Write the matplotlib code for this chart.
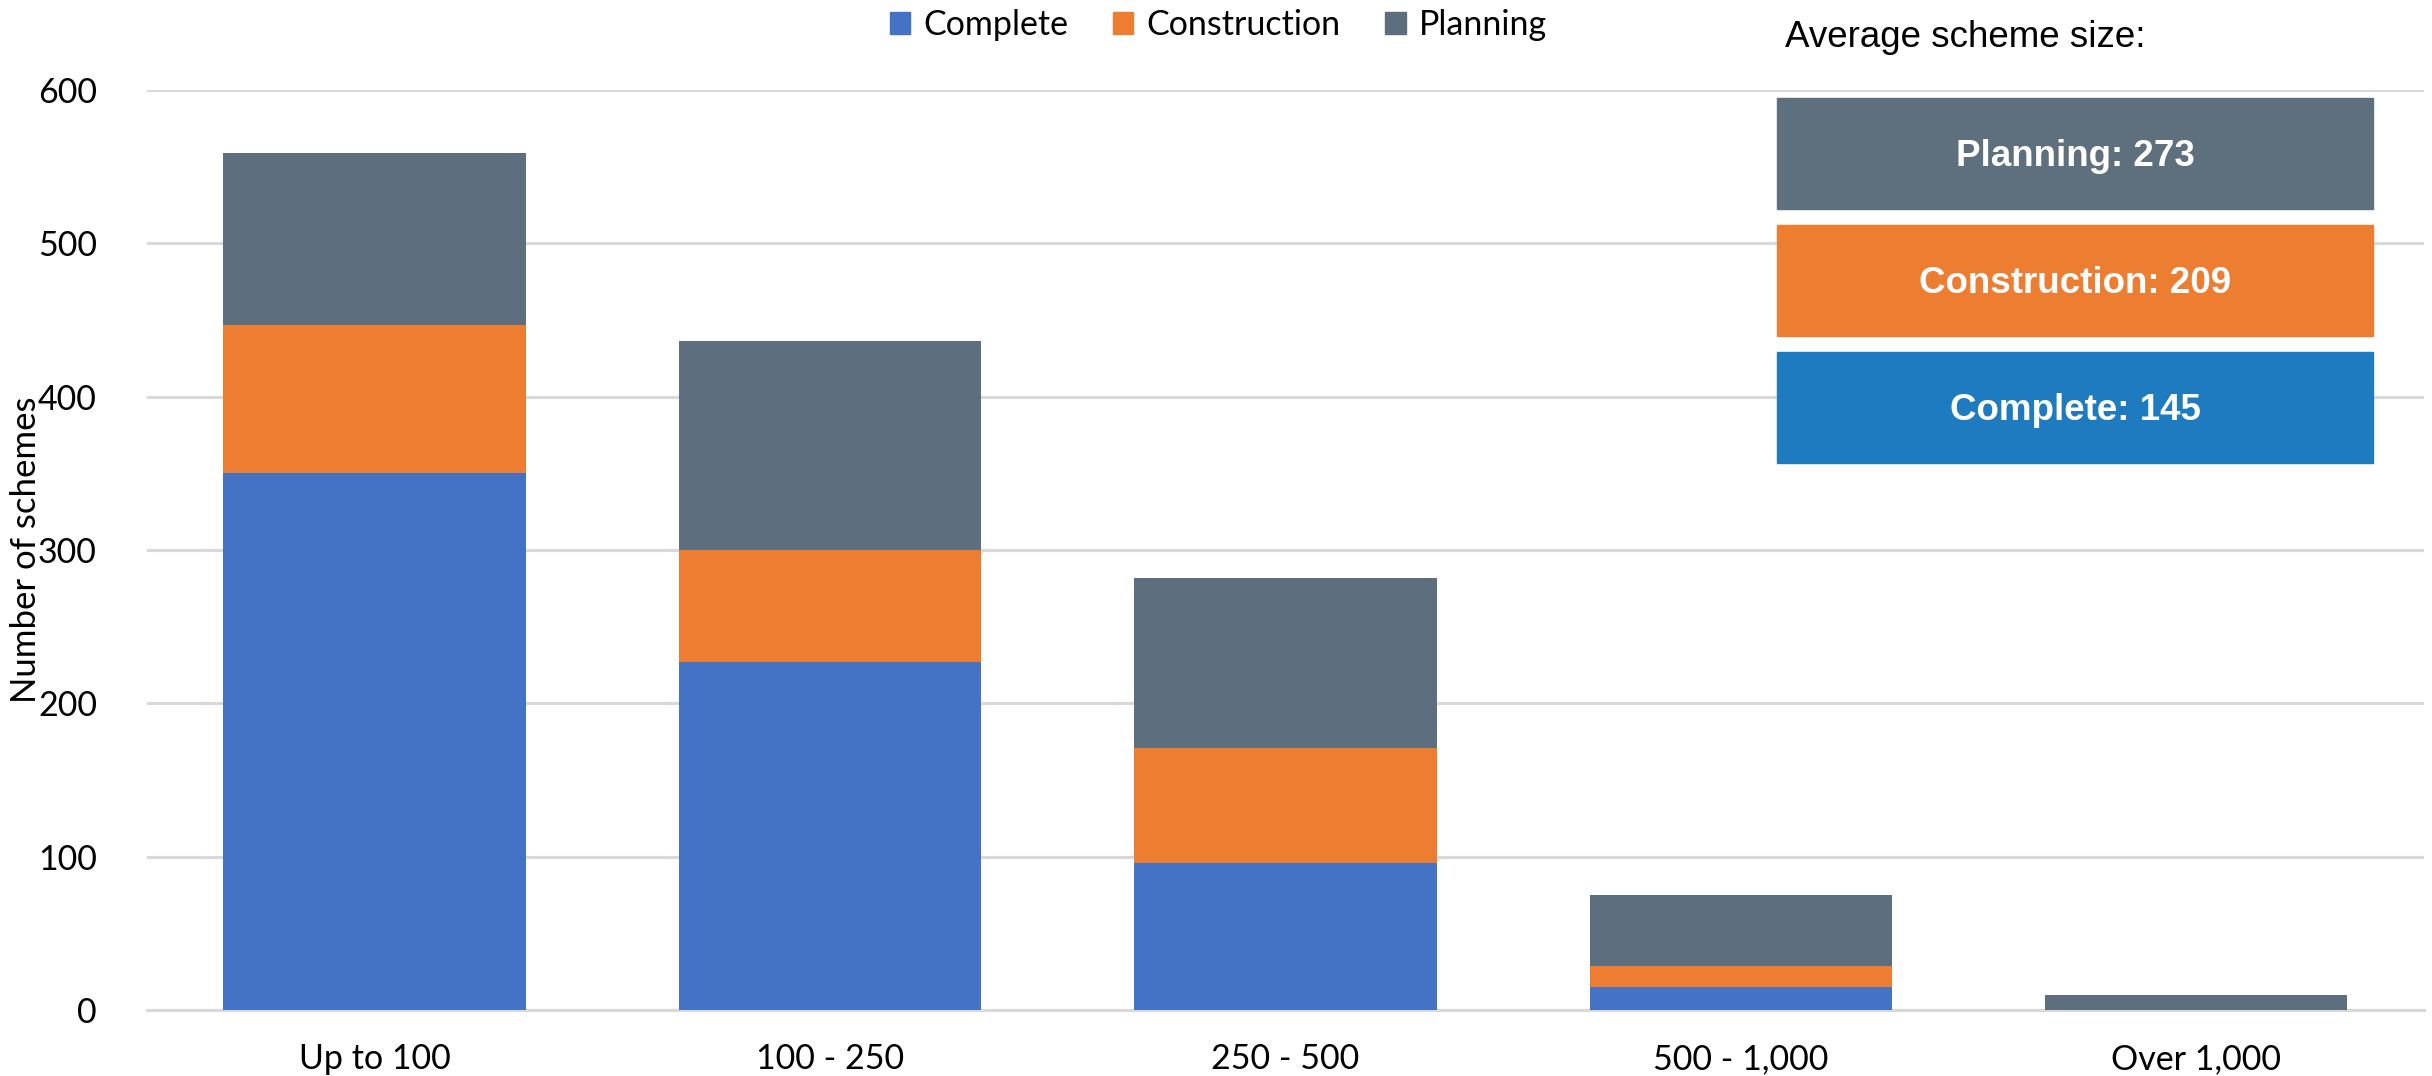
import numpy as np
import matplotlib
matplotlib.use("Agg")
import matplotlib.pyplot as plt
from matplotlib.patches import Patch

# data
categories = ["Up to 100", "100 - 250", "250 - 500", "500 - 1,000", "Over 1,000"]
complete = [350, 227, 96, 15, 0]
construction = [97, 73, 75, 14, 0]
planning = [112, 136, 111, 46, 10]

avg_labels = ["Planning", "Construction", "Complete"]
avg_sizes = [273, 209, 145]

c_complete = "#4472C4"
c_construction = "#ED7D31"
c_planning = "#5D6F7E"
box_colors = ["#5E6F7E", "#ED7D31", "#1F7BBF"]

plt.rcParams["font.family"] = ["Lato", "DejaVu Sans"]

fig = plt.figure(figsize=(24.32, 10.76), dpi=100)
ax = fig.add_axes([0.0604, 0.0613, 0.9363, 0.8551])

x = np.arange(len(categories))
w = 0.664
complete = np.array(complete)
construction = np.array(construction)
planning = np.array(planning)
ax.bar(x, complete, w, color=c_complete, zorder=3)
ax.bar(x, construction, w, bottom=complete, color=c_construction, zorder=3)
ax.bar(x, planning, w, bottom=complete + construction, color=c_planning, zorder=3)

ax.set_xlim(-0.5, 4.5)
ax.set_ylim(0, 600)
ax.set_yticks(range(0, 601, 100))
ax.set_xticks(x)
ax.set_xticklabels(categories)
ax.yaxis.grid(True, color="#D9D9D9", linewidth=2.2, zorder=0)
ax.tick_params(axis="both", length=0, labelsize=24.5, colors="black")
ax.tick_params(axis="x", pad=24)
ax.tick_params(axis="y", pad=36)
for s in ["top", "right", "left"]:
    ax.spines[s].set_visible(False)
ax.spines["bottom"].set_color("#D9D9D9")
ax.spines["bottom"].set_linewidth(2.2)
ax.set_ylabel("Number of schemes", fontsize=25)
ax.yaxis.set_label_coords(-0.046, 0.5)

handles = [Patch(color=c_complete), Patch(color=c_construction), Patch(color=c_planning)]
fig.legend(handles, ["Complete", "Construction", "Planning"], loc="center",
           bbox_to_anchor=(0.501, 0.977), ncol=3, frameon=False, fontsize=24.5,
           handlelength=0.6, handleheight=0.6, handletextpad=0.4, columnspacing=1.3)

# average scheme size boxes
fig.text(0.734, 0.9655, "Average scheme size:", family="Liberation Sans",
         fontsize=26.5, va="center", ha="left")
box_top = [0.9089, 0.7909, 0.6729]
box_h = 0.1031
for lab, val, col, top in zip(avg_labels, avg_sizes, box_colors, box_top):
    r = plt.Rectangle((0.7307, top - box_h), 0.2450, box_h, transform=fig.transFigure,
                      color=col, zorder=5)
    fig.add_artist(r)
    fig.text(0.7307 + 0.1225, top - box_h / 2 - 0.003, f"{lab}: {val}", color="white",
             family="Liberation Sans", weight="bold", fontsize=26.5,
             ha="center", va="center", zorder=6)

fig.savefig("out.png", dpi=100)
